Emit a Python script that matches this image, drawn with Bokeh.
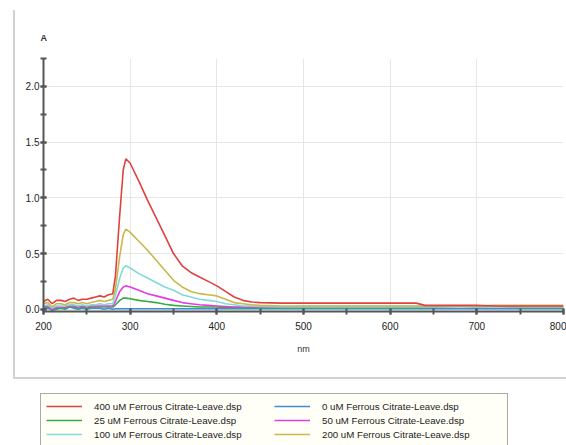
from bokeh.plotting import figure
from bokeh.models import Legend, LegendItem, SingleIntervalTicker, Title, CustomJSTickFormatter
from bokeh.layouts import column
from bokeh.embed import file_html
from bokeh.resources import INLINE

wavelength = [200, 205, 210, 215, 220, 225, 230, 235, 240, 245, 250, 255, 260, 265, 270, 275, 280,
              283, 288, 292, 295, 300, 310, 320, 330, 340, 350, 360, 370, 380, 390, 400, 410, 420,
              430, 440, 450, 475, 500, 550, 600, 630, 640, 660, 680, 700, 720, 750, 800]

a_400 = [0.07, 0.09, 0.05, 0.08, 0.08, 0.07, 0.09, 0.10, 0.08, 0.09, 0.09, 0.10, 0.11, 0.12, 0.11, 0.13, 0.14,
         0.30, 0.85, 1.25, 1.35, 1.31, 1.15, 0.98, 0.82, 0.66, 0.50, 0.39, 0.33, 0.29, 0.25, 0.21, 0.16, 0.11,
         0.08, 0.065, 0.06, 0.055, 0.055, 0.055, 0.055, 0.055, 0.035, 0.035, 0.035, 0.035, 0.03, 0.03, 0.03]
a_200 = [0.05, 0.06, 0.02, 0.05, 0.05, 0.04, 0.06, 0.06, 0.05, 0.06, 0.05, 0.06, 0.07, 0.08, 0.07, 0.08, 0.09,
         0.18, 0.48, 0.67, 0.72, 0.69, 0.61, 0.53, 0.44, 0.35, 0.26, 0.20, 0.16, 0.14, 0.13, 0.12, 0.09, 0.06,
         0.05, 0.04, 0.035, 0.03, 0.03, 0.03, 0.03, 0.03, 0.03, 0.03, 0.03, 0.03, 0.035, 0.035, 0.035]
a_100 = [0.03, 0.04, 0.01, 0.03, 0.03, 0.03, 0.04, 0.04, 0.03, 0.04, 0.03, 0.04, 0.04, 0.05, 0.04, 0.05, 0.05,
         0.12, 0.28, 0.37, 0.39, 0.37, 0.32, 0.28, 0.24, 0.20, 0.17, 0.13, 0.11, 0.09, 0.08, 0.07, 0.05, 0.04,
         0.03, 0.03, 0.025, 0.02, 0.02, 0.02, 0.02, 0.02, 0.02, 0.02, 0.02, 0.02, 0.02, 0.02, 0.02]
a_50 = [0.02, 0.03, 0.00, 0.02, 0.02, 0.02, 0.03, 0.03, 0.02, 0.03, 0.02, 0.03, 0.03, 0.03, 0.03, 0.03, 0.03,
        0.07, 0.16, 0.20, 0.21, 0.20, 0.17, 0.14, 0.12, 0.10, 0.08, 0.06, 0.05, 0.04, 0.035, 0.03, 0.025, 0.02,
        0.02, 0.02, 0.02, 0.02, 0.025, 0.025, 0.025, 0.025, 0.025, 0.025, 0.025, 0.025, 0.025, 0.02, 0.02]
a_25 = [0.01, 0.02, 0.00, 0.01, 0.01, 0.01, 0.02, 0.02, 0.01, 0.02, 0.01, 0.02, 0.02, 0.02, 0.02, 0.02, 0.02,
        0.04, 0.08, 0.10, 0.10, 0.095, 0.08, 0.07, 0.06, 0.045, 0.035, 0.03, 0.025, 0.02, 0.02, 0.02, 0.015, 0.015,
        0.015, 0.015, 0.015, 0.015, 0.015, 0.015, 0.015, 0.015, 0.015, 0.02, 0.03, 0.02, 0.03, 0.015, 0.015]
a_0 = [0.00, 0.01, -0.01, 0.00, 0.01, 0.00, 0.02, 0.01, 0.00, 0.01, 0.00, 0.01, 0.01, 0.01, 0.00, 0.01, 0.00,
       0.005, 0.005, 0.005, 0.005, 0.005, 0.005, 0.005, 0.005, 0.005, 0.005, 0.005, 0.005, 0.005, 0.005, 0.005,
       0.005, 0.005, 0.005, 0.005, 0.005, 0.005, 0.005, 0.005, 0.005, 0.005, 0.005, 0.005, 0.005, 0.005, 0.005, 0.005, 0.005]

series_labels = ["0 uM Ferrous Citrate-Leave.dsp", "25 uM Ferrous Citrate-Leave.dsp",
                 "50 uM Ferrous Citrate-Leave.dsp", "100 uM Ferrous Citrate-Leave.dsp",
                 "200 uM Ferrous Citrate-Leave.dsp", "400 uM Ferrous Citrate-Leave.dsp"]
series_values = [a_0, a_25, a_50, a_100, a_200, a_400]
series_colors = ["#3d8fd1", "#33ad3f", "#e23ce2", "#80dada", "#c8b84c", "#e0413f"]
legend_order = [5, 1, 3, 0, 2, 4]  # 400, 25, 100 | 0, 50, 200

FONT = "Liberation Sans"

p = figure(frame_width=518, frame_height=251, x_range=(200, 800), y_range=(-0.02, 2.25),
           output_backend="svg", toolbar_location=None, min_border_left=28, min_border_right=5,
           min_border_top=48, min_border_bottom=68,
           styles={"margin-left": "13px", "margin-top": "10px", "border-left": "2px solid #d2d2d2",
                   "border-bottom": "2px solid #d2d2d2"})
p.outline_line_color = None
p.background_fill_color = "white"

spacer = Title(text=" ", align="left", standoff=0, text_font=FONT, text_font_size="8px")
p.add_layout(spacer, "above")
t = Title(text="A", align="left", offset=-3, standoff=10, text_font=FONT, text_font_size="9px",
          text_font_style="bold", text_color="#333333")
p.add_layout(t, "above")

p.xaxis.ticker = SingleIntervalTicker(interval=100, num_minor_ticks=2)
p.yaxis.ticker = SingleIntervalTicker(interval=0.5, num_minor_ticks=2)
p.yaxis.formatter = CustomJSTickFormatter(code="return tick.toFixed(1);")
p.xaxis.axis_label = "nm"
for ax in (p.xaxis, p.yaxis):
    ax.axis_line_color = "#555555"
    ax.axis_line_width = 2
    ax.major_tick_line_color = "#555555"
    ax.minor_tick_line_color = "#555555"
    ax.major_tick_line_width = 2
    ax.minor_tick_line_width = 2
    ax.major_tick_in = 3
    ax.major_tick_out = 3
    ax.minor_tick_in = 3
    ax.minor_tick_out = 3
    ax.major_label_text_font = FONT
    ax.major_label_text_font_size = "10px"
    ax.major_label_text_color = "#222222"
    ax.axis_label_text_font = FONT
    ax.axis_label_text_font_size = "9px"
    ax.axis_label_text_font_style = "normal"
    ax.axis_label_text_color = "#333333"
p.xaxis.major_label_standoff = 7
p.xaxis.axis_label_standoff = 11
p.yaxis.major_label_standoff = 1
p.grid.grid_line_color = "#e6e6e6"
p.grid.grid_line_width = 1

for vals, col in zip(series_values, series_colors):
    p.line(wavelength, vals, line_color=col, line_width=1.6)

# Legend panel
q = figure(frame_width=566, frame_height=66, x_range=(0, 1), y_range=(0, 1),
           output_backend="svg", toolbar_location=None, min_border=0,
           x_axis_location=None, y_axis_location=None)
q.outline_line_color = None
q.grid.visible = False
renderers = []
for vals, col in zip(series_values, series_colors):
    renderers.append(q.line(wavelength, vals, line_color=col, line_width=1.6))
items = [LegendItem(label=series_labels[i], renderers=[renderers[i]]) for i in legend_order]
leg = Legend(items=items, ncols=2, nrows=3, location=(40, -2), orientation="vertical",
             glyph_width=36, glyph_height=14, label_height=14, label_width=180, label_standoff=12,
             spacing=0, padding=5, margin=0, label_text_font=FONT, label_text_font_size="9.7px",
             label_text_color="#222222", border_line_color="#555555", border_line_width=1.5,
             background_fill_color="#fffff8", background_fill_alpha=1.0)
q.add_layout(leg, "center")

layout = column(p, q, spacing=0)
open("out.html", "w").write(file_html(layout, INLINE))
